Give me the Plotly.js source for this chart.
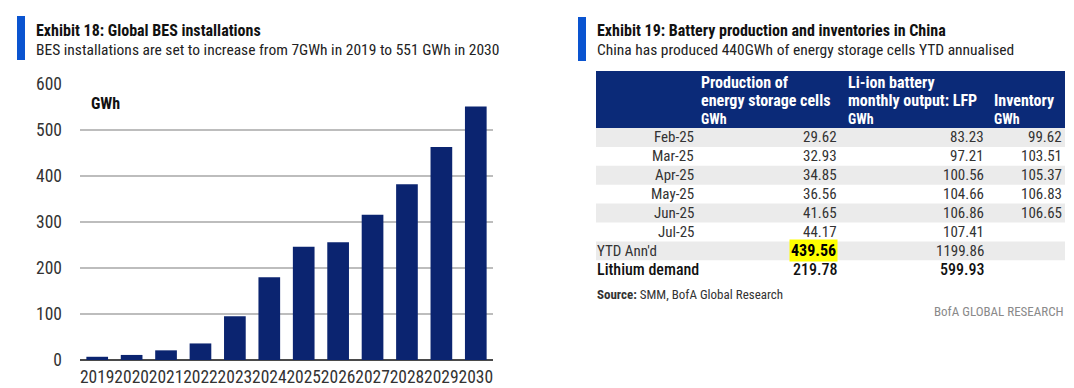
<!DOCTYPE html>
<html><head><meta charset="utf-8">
<script src="https://cdn.plot.ly/plotly-3.0.1.min.js"></script>
<style>html,body{margin:0;padding:0;background:#fff;}#chart{width:1074px;height:388px;}</style>
</head><body><div id="chart"></div>
<script>
// ---- Exhibit 18 data ----
const years = ['2019','2020','2021','2022','2023','2024','2025','2026','2027','2028','2029','2030'];
const installations = [7, 11, 21, 36, 95, 180, 246, 256, 316, 382, 463, 551];

// ---- Exhibit 19 data ----
const headerCol1 = ['Production of', 'energy storage cells', 'GWh'];
const headerCol2 = ['Li-ion battery', 'monthly output: LFP', 'GWh'];
const headerCol3 = ['', 'Inventory', 'GWh'];
const months = ['Feb-25', 'Mar-25', 'Apr-25', 'May-25', 'Jun-25', 'Jul-25'];
const production = ['29.62', '32.93', '34.85', '36.56', '41.65', '44.17'];
const lfpOutput = ['83.23', '97.21', '100.56', '104.66', '106.86', '107.41'];
const inventory = ['99.62', '103.51', '105.37', '106.83', '106.65', ''];
const ytdLabel = "YTD Ann'd";
const ytdValues = ['439.56', '1199.86', ''];
const lithiumLabel = 'Lithium demand';
const lithiumValues = ['219.78', '599.93', ''];

const W = 1074, H = 388;
const FONT = '"Roboto Condensed", Roboto, sans-serif';
const px = x => x / W;
const py = y => 1 - y / H;

const annotations = [];
const shapes = [];
function txt(text, x, y, opts) {
  opts = opts || {};
  const a = {
    text: text, xref: 'paper', yref: 'paper', x: px(x), y: py(y),
    xanchor: opts.xanchor || 'left', yanchor: 'middle', showarrow: false,
    align: opts.xanchor || 'left',
    font: {family: FONT, size: opts.size || 15, color: opts.color || '#333', weight: opts.weight || 'normal'},
    borderpad: opts.borderpad || 0
  };
  if (opts.bgcolor) a.bgcolor = opts.bgcolor;
  annotations.push(a);
}
function rect(x0, y0, x1, y1, color) {
  shapes.push({type: 'rect', xref: 'paper', yref: 'paper', x0: px(x0), x1: px(x1), y0: py(y1), y1: py(y0),
    fillcolor: color, line: {width: 0}, layer: 'below'});
}

// Left header
rect(17, 16, 25, 60, '#0a54d0');
txt('<b>Exhibit 18: Global BES installations</b>', 35, 31, {size: 16, color: '#111'});
txt('BES installations are set to increase from 7GWh in 2019 to 551 GWh in 2030', 35, 50, {size: 15.5, color: '#222'});
txt('<b>GWh</b>', 90, 104, {size: 16, color: '#111'});

// Right header
rect(578, 17, 586, 61, '#0a54d0');
txt('<b>Exhibit 19: Battery production and inventories in China</b>', 596, 31, {size: 16, color: '#111'});
txt('China has produced 440GWh of energy storage cells YTD annualised', 596, 50, {size: 15.5, color: '#222'});

// Table
const tL = 596, tR = 1065, hTop = 71, hBot = 128, rowH = 18.9;
const colHeaderX = [700, 847, 993];
const colRightX = [838, 985, 1063];
const labelRightX = 695;
rect(tL, hTop, tR, hBot, '#0b2a78');
const headerLineY = [82, 101, 119];
[headerCol1, headerCol2, headerCol3].forEach((col, ci) => {
  col.forEach((line, li) => {
    if (line) txt('<b>' + line + '</b>', colHeaderX[ci], headerLineY[li], {size: li === 2 ? 14 : 16, color: '#fff'});
  });
});
const rowCenter = i => hBot + rowH * (i + 0.5);
months.forEach((m, i) => {
  if (i % 2 === 0) rect(tL, hBot + rowH * i, tR, hBot + rowH * (i + 1), '#ebebeb');
  const yc = rowCenter(i);
  txt(m, labelRightX, yc, {xanchor: 'right', size: 15});
  [production[i], lfpOutput[i], inventory[i]].forEach((v, ci) => {
    if (v) txt(v, colRightX[ci], yc, {xanchor: 'right', size: 15});
  });
});
// YTD row
const iY = months.length;
rect(tL, hBot + rowH * iY, tR, hBot + rowH * (iY + 1), '#ebebeb');
txt(ytdLabel, tL, rowCenter(iY), {size: 15});
ytdValues.forEach((v, ci) => {
  if (!v) return;
  if (ci === 0) txt('<b>' + v + '</b>', colRightX[ci], rowCenter(iY), {xanchor: 'right', size: 16, color: '#000', bgcolor: '#ffff00', borderpad: 1});
  else txt(v, colRightX[ci], rowCenter(iY), {xanchor: 'right', size: 15});
});
// Lithium row
const iL = iY + 1;
txt(lithiumLabel, tL, rowCenter(iL), {size: 16, color: '#111', weight: 500});
lithiumValues.forEach((v, ci) => {
  if (v) txt(v, colRightX[ci], rowCenter(iL), {xanchor: 'right', size: 16, color: '#111', weight: 500});
});
txt('<b>Source:</b> SMM, BofA Global Research', tL, 294, {size: 13, color: '#333'});
txt('BofA GLOBAL RESEARCH', tR, 311, {xanchor: 'right', size: 13, color: '#8a8a8a'});

const data = [{
  type: 'bar', x: years, y: installations,
  marker: {color: '#0b2470'}, hoverinfo: 'x+y'
}];

const layout = {
  width: W, height: H,
  margin: {l: 0, r: 0, t: 0, b: 0},
  paper_bgcolor: '#fff', plot_bgcolor: '#fff',
  showlegend: false, bargap: 0.37,
  font: {family: FONT, color: '#333'},
  xaxis: {
    domain: [px(80), px(493)], type: 'category', tickangle: 0,
    showgrid: false, showline: false, ticks: '', zeroline: false,
    tickfont: {family: FONT, size: 17.5, color: '#333'}, ticklabelstandoff: 4,
    fixedrange: true
  },
  yaxis: {
    domain: [py(360), py(84)], range: [0, 600], dtick: 100,
    showgrid: true, gridcolor: '#bdbdbd', gridwidth: 2,
    zeroline: true, zerolinecolor: '#4a4a4a', zerolinewidth: 2,
    showline: false, ticks: '',
    tickfont: {family: FONT, size: 17.5, color: '#333'}, ticklabelstandoff: 17,
    fixedrange: true
  },
  annotations: annotations,
  shapes: shapes
};
Plotly.newPlot('chart', data, layout, {displayModeBar: false, staticPlot: true});
</script>
</body></html>
